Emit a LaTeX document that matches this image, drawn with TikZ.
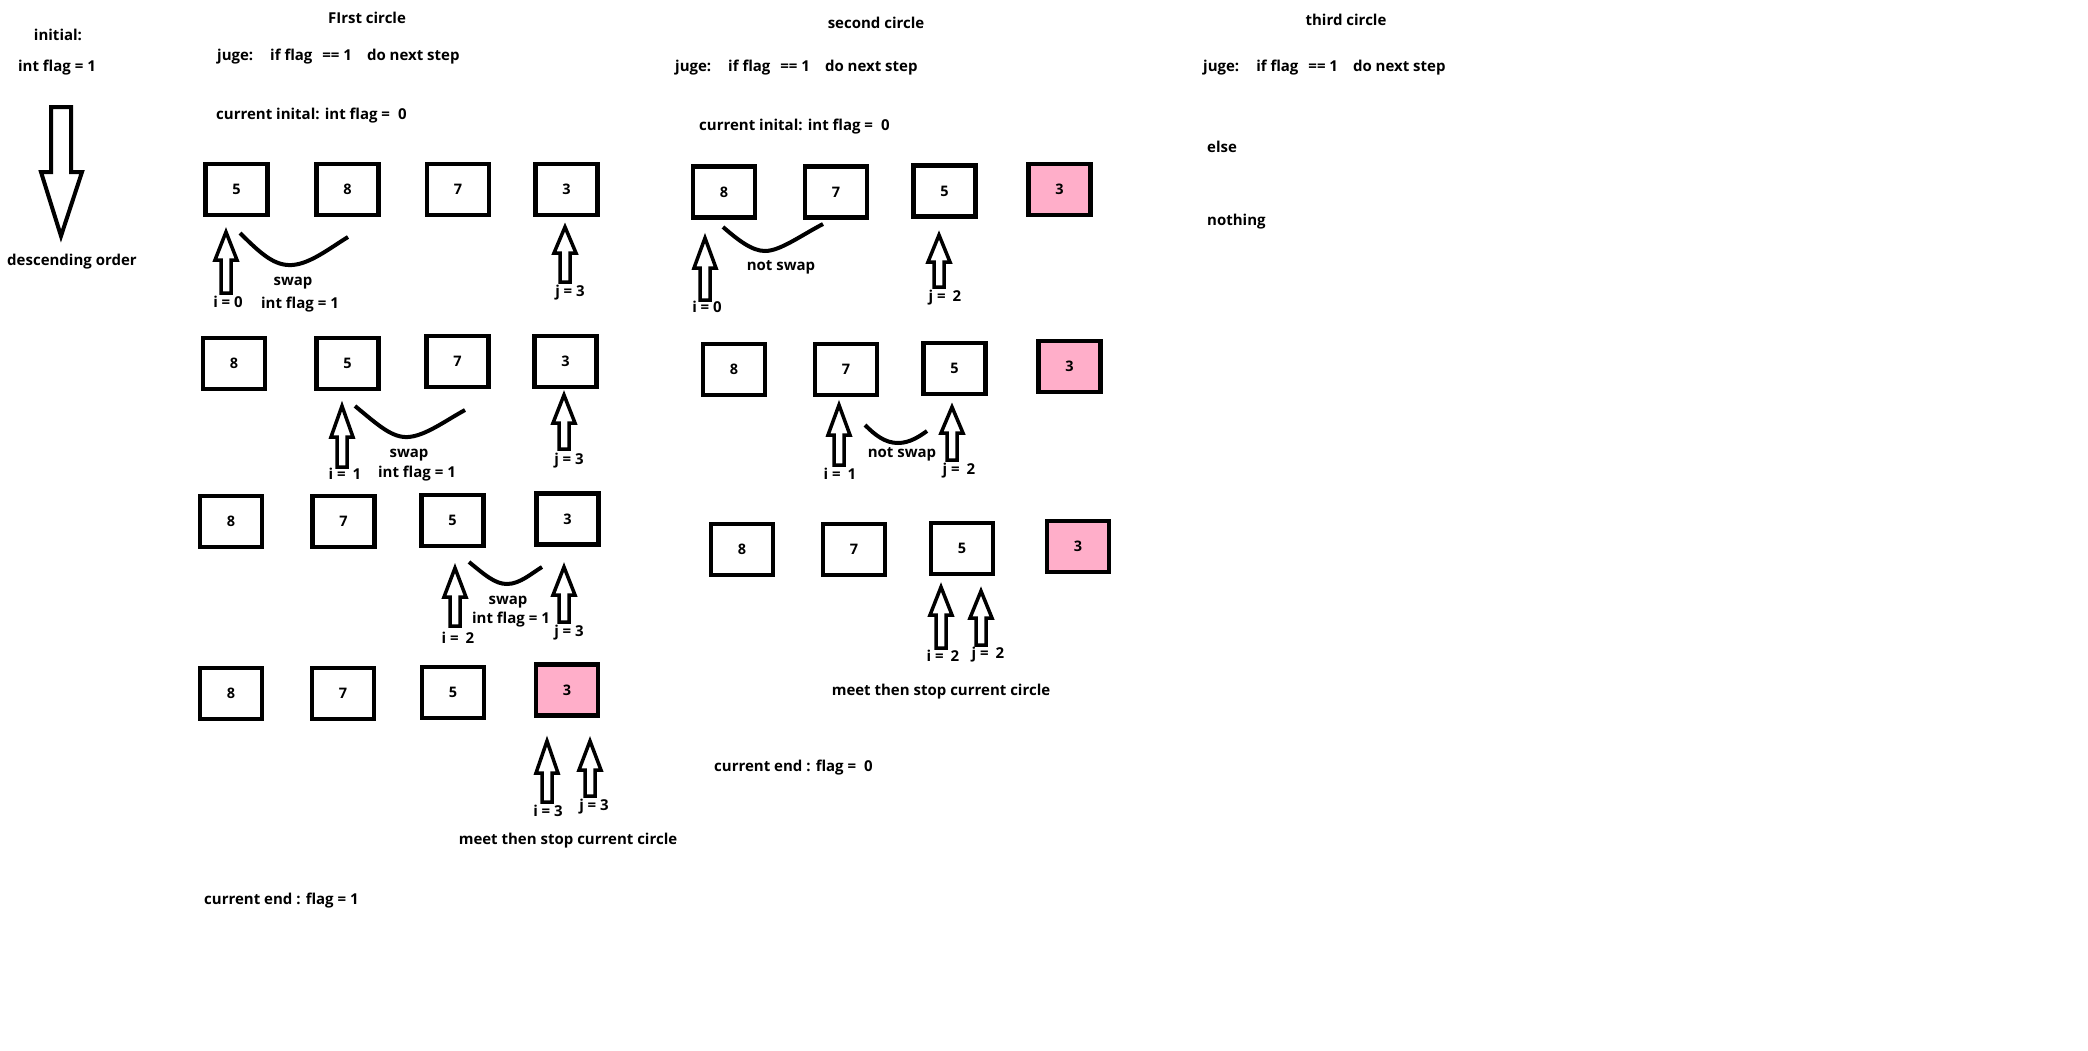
\documentclass[tikz,border=0pt]{standalone}
\usepackage{fontspec}
\setmainfont{Open Sans}
\usepackage{tikz}
\usetikzlibrary{positioning}
\definecolor{rose}{RGB}{255,174,201}
\tikzstyle{cell} = [draw, line width=4.5pt, minimum width=62pt, minimum height=51pt, inner sep=0pt, font=\bfseries\fontsize{14.5}{17}\selectfont]
\tikzstyle{sorted} = [cell, fill=rose]
\tikzstyle{lbl} = [inner sep=0pt, font=\bfseries\fontsize{15}{18}\selectfont]
\tikzstyle{swapline} = [line width=4pt]
\tikzstyle{ptr} = [line width=3.5pt, line join=miter]
% hollow up arrow: x, tip, head base, foot
\newcommand{\ptrarrow}[4]{%
	\draw[ptr] (#1-5,#4) -- (#1-5,#3) -- (#1-11,#3) -- (#1,#2) -- (#1+11,#3) -- (#1+5,#3) -- (#1+5,#4) -- cycle;}

\begin{document}
\begin{tikzpicture}[x=1pt, y=-1pt]
	\fill[white] (0,0) rectangle (2088,1050);
	\useasboundingbox (0,0) rectangle (2088,1050);
	% initial
	\node[lbl] (init) at (58,35) {initial:};
	\node[lbl] (initflag) at (57,68) {int flag = 1};
	\draw[line width=4pt, line join=miter] (51,107) -- (51,172) -- (41,172) -- (61,236) -- (82,172) -- (71,172) -- (71,107) -- cycle;
	\node[lbl] (order) at (72,262) {descending order};
	
	% first circle
	\node[lbl] (title1) at (367,18) {FIrst circle};
	\node[lbl, anchor=west] (juge1) at (217,57) {juge:\hspace{17pt}if flag\hspace{10pt}== 1\hspace{15pt}do next step};
	\node[lbl, anchor=west] (cur1) at (216,116) {current inital: int flag =\hspace{8pt}0};
	
	\node[cell] (a11) at (236.5,189.5) {5};
	\node[cell] (a12) at (347.5,189.5) {8};
	\node[cell] (a13) at (458,189.5) {7};
	\node[cell] (a14) at (566.5,189.5) {3};
	\ptrarrow{226}{232}{260}{293}
	\ptrarrow{565}{227}{253}{282}
	\draw[swapline] (240,233) .. controls (262,255) and (275,266) .. (292,265) .. controls (310,264) and (330,248) .. (348,237);
	\node[lbl] (swap1) at (293,283) {swap};
	\node[lbl] (flag1) at (300,305) {int flag = 1};
	\node[lbl] (i1) at (228,302) {i = 0};
	\node[lbl] (j1) at (570,293) {j = 3};
	
	\node[cell] (a21) at (234,363.5) {8};
	\node[cell] (a22) at (347.5,363.5) {5};
	\node[cell] (a23) at (457.5,361.5) {7};
	\node[cell] (a24) at (565.5,361.5) {3};
	\ptrarrow{342}{406}{437}{467}
	\ptrarrow{564}{395}{423}{449}
	\draw[swapline] (355,406) .. controls (378,425) and (392,438) .. (408,437) .. controls (425,436) and (445,421) .. (465,410);
	\node[lbl] (swap2) at (409,455) {swap};
	\node[lbl] (flag2) at (417,474) {int flag = 1};
	\node[lbl] (i2) at (345,474) {i =\hspace{7pt}1};
	\node[lbl] (j2) at (569,461) {j = 3};
	
	\node[cell] (a31) at (231,521.5) {8};
	\node[cell] (a32) at (343.5,521.5) {7};
	\node[cell] (a33) at (452.5,520.5) {5};
	\node[cell] (a34) at (567.5,519) {3};
	\ptrarrow{455}{568}{597}{626}
	\ptrarrow{564}{567}{595}{622}
	\draw[swapline] (469,562) .. controls (485,575) and (495,584) .. (507,584) .. controls (520,584) and (532,573) .. (542,567);
	\node[lbl] (swap3) at (508,602) {swap};
	\node[lbl] (flag3) at (511,620) {int flag = 1};
	\node[lbl] (i3) at (458,638) {i =\hspace{7pt}2};
	\node[lbl] (j3) at (569,633) {j = 3};
	
	\node[cell] (a41) at (231,693.5) {8};
	\node[cell] (a42) at (343,693.5) {7};
	\node[cell] (a43) at (453,692.5) {5};
	\node[sorted] (a44) at (567,690) {3};
	\ptrarrow{547}{741}{773}{802}
	\ptrarrow{590}{741}{770}{796}
	\node[lbl] (i4) at (548,811) {i = 3};
	\node[lbl] (j4) at (594,807) {j = 3};
	\node[lbl] (meet1) at (568,841) {meet then stop current circle};
	\node[lbl, anchor=west] (end1) at (204,901) {current end : flag = 1};
	
	% second circle
	\node[lbl] (title2) at (876,23) {second circle};
	\node[lbl, anchor=west] (juge2) at (675,68) {juge:\hspace{17pt}if flag\hspace{10pt}== 1\hspace{15pt}do next step};
	\node[lbl, anchor=west] (cur2) at (699,127) {current inital: int flag =\hspace{8pt}0};
	
	\node[cell] (b11) at (724,192) {8};
	\node[cell] (b12) at (836,192) {7};
	\node[cell] (b13) at (944.5,191) {5};
	\node[sorted] (b14) at (1059.5,189.5) {3};
	\ptrarrow{705}{238}{268}{300}
	\ptrarrow{939}{235}{262}{287}
	\draw[swapline] (723,227) .. controls (738,240) and (752,251) .. (765,251) .. controls (780,251) and (800,236) .. (823,224);
	\node[lbl] (noswap1) at (781,267) {not swap};
	\node[lbl] (k1) at (707,307) {i = 0};
	\node[lbl] (l1) at (945,298) {j =\hspace{7pt}2};
	
	\node[cell] (b21) at (734,369.5) {8};
	\node[cell] (b22) at (846,369.5) {7};
	\node[cell] (b23) at (954.5,368.5) {5};
	\node[sorted] (b24) at (1069.5,366.5) {3};
	\ptrarrow{839}{405}{435}{465}
	\ptrarrow{952}{407}{433}{460}
	\draw[swapline] (865,425) .. controls (875,435) and (885,443) .. (898,443) .. controls (910,443) and (920,436) .. (927,431);
	\node[lbl] (noswap2) at (902,454) {not swap};
	\node[lbl] (k2) at (840,474) {i =\hspace{7pt}1};
	\node[lbl] (l2) at (959,471) {j =\hspace{7pt}2};
	
	\node[cell] (b31) at (742,549.5) {8};
	\node[cell] (b32) at (854,549.5) {7};
	\node[cell] (b33) at (962,548.5) {5};
	\node[sorted] (b34) at (1078,546.5) {3};
	\ptrarrow{941}{587}{615}{648}
	\ptrarrow{981}{591}{618}{645}
	\node[lbl] (k3) at (943,656) {i =\hspace{7pt}2};
	\node[lbl] (l3) at (988,655) {j =\hspace{7pt}2};
	\node[lbl] (meet2) at (941,692) {meet then stop current circle};
	\node[lbl, anchor=west] (end2) at (714,768) {current end : flag =\hspace{8pt}0};
	
	% third circle
	\node[lbl] (title3) at (1346,20) {third circle};
	\node[lbl, anchor=west] (juge3) at (1203,68) {juge:\hspace{17pt}if flag\hspace{10pt}== 1\hspace{15pt}do next step};
	\node[lbl, anchor=west] (else3) at (1207,147) {else};
	\node[lbl, anchor=west] (none3) at (1207,222) {nothing};
\end{tikzpicture}
\end{document}
